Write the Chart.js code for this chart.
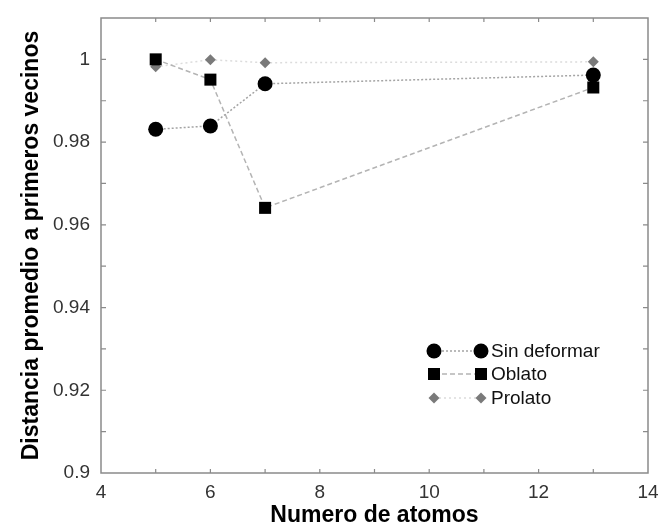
<!DOCTYPE html>
<html><head><meta charset="utf-8">
<script src="https://cdn.jsdelivr.net/npm/chart.js@4.4.0/dist/chart.umd.min.js"></script>
<style>html,body{margin:0;padding:0;background:#fff}#wrap{width:660px;height:527px}</style>
</head><body><div id="wrap"><canvas id="c" width="660" height="527"></canvas></div>
<script>
// ---- data ----
const atomos = [5, 6, 7, 13];
const sinDeformar = [0.9831, 0.9839, 0.9941, 0.9962];
const oblato = [1.0000, 0.9951, 0.9641, 0.9932];
const prolato = [0.9982, 0.9999, 0.9992, 0.9994];
const seriesNames = ['Sin deformar', 'Oblato', 'Prolato'];
const xLabelTicks = [4, 6, 8, 10, 12, 14];
const yLabelTicks = [0.9, 0.92, 0.94, 0.96, 0.98, 1];

const FONT = '"Liberation Sans", Arial, Helvetica, sans-serif';
const toPts = ys => atomos.map((x, i) => ({x: x, y: ys[i]}));

const styles = [
  {marker: 'circle', r: 7.5, color: '#000', line: '#a4a4a4', dash: [2, 2]},
  {marker: 'rect', r: 8.5, color: '#000', line: '#b4b4b4', dash: [5, 3]},
  {marker: 'rectRot', r: 5.5, color: '#7a7a7a', line: '#dcdcdc', dash: [2, 3]}
];
const values = [sinDeformar, oblato, prolato];

const datasets = values.map((v, i) => ({
  label: seriesNames[i],
  data: toPts(v),
  showLine: true,
  borderColor: styles[i].line,
  borderWidth: 1.5,
  borderDash: styles[i].dash,
  pointStyle: styles[i].marker,
  pointRadius: styles[i].r,
  pointHoverRadius: styles[i].r,
  pointBackgroundColor: styles[i].color,
  pointBorderColor: styles[i].color,
  pointBorderWidth: 0,
  clip: false
}));

function drawMarker(ctx, type, x, y, r, color) {
  ctx.save();
  ctx.fillStyle = color;
  ctx.beginPath();
  if (type === 'circle') {
    ctx.arc(x, y, r, 0, Math.PI * 2);
  } else if (type === 'rect') {
    const s = Math.SQRT1_2 * r;
    ctx.rect(x - s, y - s, 2 * s, 2 * s);
  } else {
    ctx.moveTo(x, y - r); ctx.lineTo(x + r, y); ctx.lineTo(x, y + r); ctx.lineTo(x - r, y); ctx.closePath();
  }
  ctx.fill();
  ctx.restore();
}

const framePlugin = {
  id: 'frame',
  afterDraw(chart) {
    const {ctx, chartArea: a, scales} = chart;
    ctx.save();
    ctx.strokeStyle = '#8a8a8a';
    ctx.lineWidth = 1.5;
    ctx.strokeRect(a.left, a.top, a.right - a.left, a.bottom - a.top);
    ctx.lineWidth = 1.2;
    ctx.beginPath();
    scales.y.ticks.forEach(t => {
      const py = scales.y.getPixelForValue(t.value);
      if (py <= a.top + 1 || py >= a.bottom - 1) return;
      ctx.moveTo(a.left, py); ctx.lineTo(a.left + 5, py);
      ctx.moveTo(a.right, py); ctx.lineTo(a.right - 5, py);
    });
    scales.x.ticks.forEach(t => {
      const px = scales.x.getPixelForValue(t.value);
      if (px <= a.left + 1 || px >= a.right - 1) return;
      ctx.moveTo(px, a.bottom); ctx.lineTo(px, a.bottom - 4);
      ctx.moveTo(px, a.top); ctx.lineTo(px, a.top + 4);
    });
    ctx.stroke();
    ctx.restore();
  }
};

const legendPlugin = {
  id: 'gpLegend',
  afterDatasetsDraw(chart) {
    const {ctx, chartArea: a} = chart;
    const x1 = a.right - 214, x2 = a.right - 167, tx = a.right - 157;
    const ys = [a.bottom - 122, a.bottom - 99, a.bottom - 75];
    ctx.save();
    seriesNames.forEach((name, i) => {
      const s = styles[i];
      const y = ys[i];
      ctx.strokeStyle = s.line;
      ctx.lineWidth = 1.5;
      ctx.setLineDash(s.dash);
      ctx.beginPath(); ctx.moveTo(x1, y); ctx.lineTo(x2, y); ctx.stroke();
      ctx.setLineDash([]);
      drawMarker(ctx, s.marker, x1, y, s.r, s.color);
      drawMarker(ctx, s.marker, x2, y, s.r, s.color);
      ctx.fillStyle = '#111';
      ctx.font = '19px ' + FONT;
      ctx.textAlign = 'left';
      ctx.textBaseline = 'middle';
      ctx.fillText(name, tx, y + 1);
    });
    ctx.restore();
  }
};

const fmt = v => parseFloat(v.toFixed(2)).toString();

new Chart(document.getElementById('c'), {
  type: 'scatter',
  data: {datasets: datasets},
  options: {
    responsive: false,
    animation: false,
    devicePixelRatio: 1,
    layout: {padding: {top: 18, right: 12, left: 0, bottom: 0}},
    plugins: {legend: {display: false}, tooltip: {enabled: false}},
    scales: {
      x: {
        type: 'linear', min: 4, max: 14,
        grid: {display: false, drawTicks: false},
        border: {display: false},
        ticks: {
          stepSize: 1, padding: 8, color: '#333', maxRotation: 0, autoSkip: false,
          font: {family: FONT, size: 19},
          callback: v => xLabelTicks.includes(v) ? String(v) : ''
        },
        title: {display: true, text: 'Numero de atomos', color: '#000',
          font: {family: FONT, size: 23, weight: 'bold', lineHeight: 1}, padding: {top: 0, bottom: 0}},
        afterFit: s => { s.height = 54; s.paddingLeft = 0; s.paddingRight = 0; }
      },
      y: {
        type: 'linear', min: 0.9, max: 1.01,
        grid: {display: false, drawTicks: false},
        border: {display: false},
        ticks: {
          stepSize: 0.01, padding: 11, color: '#333', autoSkip: false,
          font: {family: FONT, size: 19},
          callback: v => yLabelTicks.some(t => Math.abs(t - v) < 1e-6) ? fmt(v) : ''
        },
        title: {display: true, text: 'Distancia promedio a primeros vecinos', color: '#000',
          font: {family: FONT, size: 23, weight: 'bold', lineHeight: 1}, padding: {top: 20, bottom: 0}},
        afterFit: s => { s.width = 101; s.paddingTop = 0; s.paddingBottom = 0; }
      }
    }
  },
  plugins: [framePlugin, legendPlugin]
});
</script>
</body></html>
